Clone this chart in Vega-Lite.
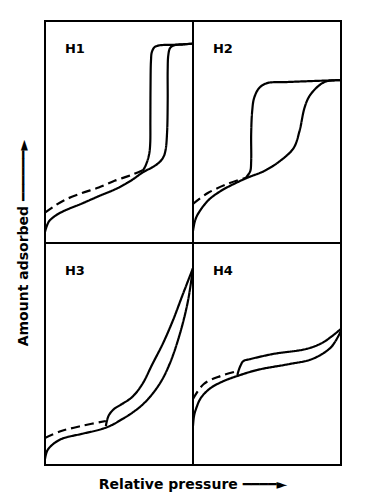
{
  "$schema": "https://vega.github.io/schema/vega-lite/v6.json",
  "padding": {"left": 16, "top": 20, "right": 30, "bottom": 10},
  "background": "white",
  "bounds": "flush",
  "data": {"values": [
    {"p":"H1","s":"a","i":0,"x":0,"y":0.05},
    {"p":"H1","s":"a","i":1,"x":0.014,"y":0.08},
    {"p":"H1","s":"a","i":2,"x":0.03,"y":0.1},
    {"p":"H1","s":"a","i":3,"x":0.075,"y":0.125},
    {"p":"H1","s":"a","i":4,"x":0.13,"y":0.145},
    {"p":"H1","s":"a","i":5,"x":0.25,"y":0.178},
    {"p":"H1","s":"a","i":6,"x":0.36,"y":0.21},
    {"p":"H1","s":"a","i":7,"x":0.49,"y":0.247},
    {"p":"H1","s":"a","i":8,"x":0.59,"y":0.285},
    {"p":"H1","s":"a","i":9,"x":0.66,"y":0.318},
    {"p":"H1","s":"a","i":10,"x":0.73,"y":0.343},
    {"p":"H1","s":"a","i":11,"x":0.77,"y":0.362},
    {"p":"H1","s":"a","i":12,"x":0.80,"y":0.387},
    {"p":"H1","s":"a","i":13,"x":0.815,"y":0.42},
    {"p":"H1","s":"a","i":14,"x":0.825,"y":0.5},
    {"p":"H1","s":"a","i":15,"x":0.829,"y":0.64},
    {"p":"H1","s":"a","i":16,"x":0.829,"y":0.78},
    {"p":"H1","s":"a","i":17,"x":0.833,"y":0.845},
    {"p":"H1","s":"a","i":18,"x":0.845,"y":0.878},
    {"p":"H1","s":"a","i":19,"x":0.87,"y":0.89},
    {"p":"H1","s":"a","i":20,"x":0.93,"y":0.894},
    {"p":"H1","s":"a","i":21,"x":1,"y":0.898},
    {"p":"H1","s":"d","i":0,"x":1,"y":0.898},
    {"p":"H1","s":"d","i":1,"x":0.87,"y":0.893},
    {"p":"H1","s":"d","i":2,"x":0.77,"y":0.89},
    {"p":"H1","s":"d","i":3,"x":0.74,"y":0.882},
    {"p":"H1","s":"d","i":4,"x":0.722,"y":0.86},
    {"p":"H1","s":"d","i":5,"x":0.716,"y":0.82},
    {"p":"H1","s":"d","i":6,"x":0.713,"y":0.7},
    {"p":"H1","s":"d","i":7,"x":0.712,"y":0.55},
    {"p":"H1","s":"d","i":8,"x":0.711,"y":0.45},
    {"p":"H1","s":"d","i":9,"x":0.705,"y":0.405},
    {"p":"H1","s":"d","i":10,"x":0.692,"y":0.37},
    {"p":"H1","s":"d","i":11,"x":0.675,"y":0.342},
    {"p":"H1","s":"d","i":12,"x":0.66,"y":0.325},
    {"p":"H1","s":"g","i":0,"x":0,"y":0.137},
    {"p":"H1","s":"g","i":1,"x":0.06,"y":0.165},
    {"p":"H1","s":"g","i":2,"x":0.13,"y":0.193},
    {"p":"H1","s":"g","i":3,"x":0.25,"y":0.225},
    {"p":"H1","s":"g","i":4,"x":0.363,"y":0.25},
    {"p":"H1","s":"g","i":5,"x":0.47,"y":0.28},
    {"p":"H1","s":"g","i":6,"x":0.59,"y":0.308},
    {"p":"H1","s":"g","i":7,"x":0.66,"y":0.328},

    {"p":"H2","s":"a","i":0,"x":0,"y":0.054},
    {"p":"H2","s":"a","i":1,"x":0.013,"y":0.099},
    {"p":"H2","s":"a","i":2,"x":0.033,"y":0.13},
    {"p":"H2","s":"a","i":3,"x":0.1,"y":0.19},
    {"p":"H2","s":"a","i":4,"x":0.187,"y":0.234},
    {"p":"H2","s":"a","i":5,"x":0.353,"y":0.29},
    {"p":"H2","s":"a","i":6,"x":0.48,"y":0.324},
    {"p":"H2","s":"a","i":7,"x":0.587,"y":0.369},
    {"p":"H2","s":"a","i":8,"x":0.68,"y":0.428},
    {"p":"H2","s":"a","i":9,"x":0.72,"y":0.505},
    {"p":"H2","s":"a","i":10,"x":0.753,"y":0.608},
    {"p":"H2","s":"a","i":11,"x":0.787,"y":0.662},
    {"p":"H2","s":"a","i":12,"x":0.847,"y":0.707},
    {"p":"H2","s":"a","i":13,"x":0.9,"y":0.728},
    {"p":"H2","s":"a","i":14,"x":1,"y":0.734},
    {"p":"H2","s":"d","i":0,"x":1,"y":0.734},
    {"p":"H2","s":"d","i":1,"x":0.633,"y":0.725},
    {"p":"H2","s":"d","i":2,"x":0.5,"y":0.72},
    {"p":"H2","s":"d","i":3,"x":0.447,"y":0.698},
    {"p":"H2","s":"d","i":4,"x":0.413,"y":0.653},
    {"p":"H2","s":"d","i":5,"x":0.4,"y":0.595},
    {"p":"H2","s":"d","i":6,"x":0.393,"y":0.491},
    {"p":"H2","s":"d","i":7,"x":0.393,"y":0.369},
    {"p":"H2","s":"d","i":8,"x":0.387,"y":0.324},
    {"p":"H2","s":"d","i":9,"x":0.367,"y":0.302},
    {"p":"H2","s":"d","i":10,"x":0.353,"y":0.29},
    {"p":"H2","s":"g","i":0,"x":0,"y":0.176},
    {"p":"H2","s":"g","i":1,"x":0.1,"y":0.225},
    {"p":"H2","s":"g","i":2,"x":0.233,"y":0.266},
    {"p":"H2","s":"g","i":3,"x":0.353,"y":0.293},

    {"p":"H3","s":"a","i":0,"x":0,"y":0.027},
    {"p":"H3","s":"a","i":1,"x":0.014,"y":0.063},
    {"p":"H3","s":"a","i":2,"x":0.041,"y":0.086},
    {"p":"H3","s":"a","i":3,"x":0.11,"y":0.117},
    {"p":"H3","s":"a","i":4,"x":0.247,"y":0.14},
    {"p":"H3","s":"a","i":5,"x":0.384,"y":0.162},
    {"p":"H3","s":"a","i":6,"x":0.452,"y":0.18},
    {"p":"H3","s":"a","i":7,"x":0.5,"y":0.198},
    {"p":"H3","s":"a","i":8,"x":0.589,"y":0.235},
    {"p":"H3","s":"a","i":9,"x":0.678,"y":0.284},
    {"p":"H3","s":"a","i":10,"x":0.774,"y":0.365},
    {"p":"H3","s":"a","i":11,"x":0.842,"y":0.455},
    {"p":"H3","s":"a","i":12,"x":0.911,"y":0.59},
    {"p":"H3","s":"a","i":13,"x":0.966,"y":0.739},
    {"p":"H3","s":"a","i":14,"x":1,"y":0.887},
    {"p":"H3","s":"d","i":0,"x":1,"y":0.887},
    {"p":"H3","s":"d","i":1,"x":0.932,"y":0.77},
    {"p":"H3","s":"d","i":2,"x":0.863,"y":0.649},
    {"p":"H3","s":"d","i":3,"x":0.795,"y":0.545},
    {"p":"H3","s":"d","i":4,"x":0.726,"y":0.455},
    {"p":"H3","s":"d","i":5,"x":0.658,"y":0.365},
    {"p":"H3","s":"d","i":6,"x":0.589,"y":0.306},
    {"p":"H3","s":"d","i":7,"x":0.521,"y":0.275},
    {"p":"H3","s":"d","i":8,"x":0.466,"y":0.252},
    {"p":"H3","s":"d","i":9,"x":0.432,"y":0.225},
    {"p":"H3","s":"d","i":10,"x":0.418,"y":0.198},
    {"p":"H3","s":"d","i":11,"x":0.411,"y":0.175},
    {"p":"H3","s":"g","i":0,"x":0,"y":0.122},
    {"p":"H3","s":"g","i":1,"x":0.11,"y":0.153},
    {"p":"H3","s":"g","i":2,"x":0.247,"y":0.176},
    {"p":"H3","s":"g","i":3,"x":0.411,"y":0.198},

    {"p":"H4","s":"a","i":0,"x":0,"y":0.176},
    {"p":"H4","s":"a","i":1,"x":0.007,"y":0.221},
    {"p":"H4","s":"a","i":2,"x":0.02,"y":0.252},
    {"p":"H4","s":"a","i":3,"x":0.053,"y":0.302},
    {"p":"H4","s":"a","i":4,"x":0.12,"y":0.347},
    {"p":"H4","s":"a","i":5,"x":0.207,"y":0.378},
    {"p":"H4","s":"a","i":6,"x":0.3,"y":0.401},
    {"p":"H4","s":"a","i":7,"x":0.433,"y":0.428},
    {"p":"H4","s":"a","i":8,"x":0.653,"y":0.455},
    {"p":"H4","s":"a","i":9,"x":0.787,"y":0.473},
    {"p":"H4","s":"a","i":10,"x":0.873,"y":0.5},
    {"p":"H4","s":"a","i":11,"x":0.94,"y":0.536},
    {"p":"H4","s":"a","i":12,"x":1,"y":0.604},
    {"p":"H4","s":"d","i":0,"x":1,"y":0.613},
    {"p":"H4","s":"d","i":1,"x":0.94,"y":0.581},
    {"p":"H4","s":"d","i":2,"x":0.873,"y":0.55},
    {"p":"H4","s":"d","i":3,"x":0.767,"y":0.523},
    {"p":"H4","s":"d","i":4,"x":0.54,"y":0.5},
    {"p":"H4","s":"d","i":5,"x":0.387,"y":0.477},
    {"p":"H4","s":"d","i":6,"x":0.34,"y":0.468},
    {"p":"H4","s":"d","i":7,"x":0.32,"y":0.446},
    {"p":"H4","s":"d","i":8,"x":0.307,"y":0.423},
    {"p":"H4","s":"d","i":9,"x":0.3,"y":0.405},
    {"p":"H4","s":"g","i":0,"x":0,"y":0.297},
    {"p":"H4","s":"g","i":1,"x":0.073,"y":0.365},
    {"p":"H4","s":"g","i":2,"x":0.187,"y":0.401},
    {"p":"H4","s":"g","i":3,"x":0.3,"y":0.423}
  ]},
  "transform": [
    {"lookup": "p", "from": {"data": {"values": [
      {"p":"H1","r":1,"c":1},{"p":"H2","r":1,"c":2},{"p":"H3","r":2,"c":1},{"p":"H4","r":2,"c":2}
    ]}, "key": "p", "fields": ["r","c"]}}
  ],
  "facet": {
    "row": {"field": "r", "type": "ordinal", "title": "Amount adsorbed ━━━━━━►",
      "header": {"labels": false, "titleOrient": "left", "titleFont": "DejaVu Sans", "titleFontSize": 14, "titleFontWeight": "bold", "titlePadding": 4, "titleColor": "black"}},
    "column": {"field": "c", "type": "ordinal", "title": "Relative pressure ━━━━►",
      "header": {"labels": false, "titleOrient": "bottom", "titleFont": "DejaVu Sans", "titleFontSize": 14, "titleFontWeight": "bold", "titlePadding": 3, "titleColor": "black"}}
  },
  "spacing": {"row": 0, "column": 0},
  "spec": {
    "width": 148,
    "height": 222,
    "layer": [
      {
        "mark": {"type": "line", "interpolate": "catmull-rom", "stroke": "black", "strokeWidth": 2.2, "clip": true},
        "encoding": {
          "x": {"field": "x", "type": "quantitative", "scale": {"domain": [0, 1], "nice": false, "zero": false}, "axis": null},
          "y": {"field": "y", "type": "quantitative", "scale": {"domain": [0, 1], "nice": false, "zero": false}, "axis": null},
          "detail": {"field": "s"},
          "order": {"field": "i", "type": "quantitative"},
          "strokeDash": {"field": "s", "type": "nominal", "scale": {"domain": ["a", "d", "g"], "range": [[1, 0], [1, 0], [9, 5]]}, "legend": null}
        }
      },
      {
        "transform": [{"filter": "datum.s == 'a' && datum.i == 0"}],
        "mark": {"type": "text", "align": "left", "baseline": "middle", "fontSize": 13, "fontWeight": "bold", "font": "DejaVu Sans", "color": "black"},
        "encoding": {
          "x": {"datum": 0.135, "type": "quantitative"},
          "y": {"datum": 0.875, "type": "quantitative"},
          "text": {"field": "p"}
        }
      }
    ]
  },
  "config": {"view": {"stroke": "black", "strokeWidth": 2}}
}
